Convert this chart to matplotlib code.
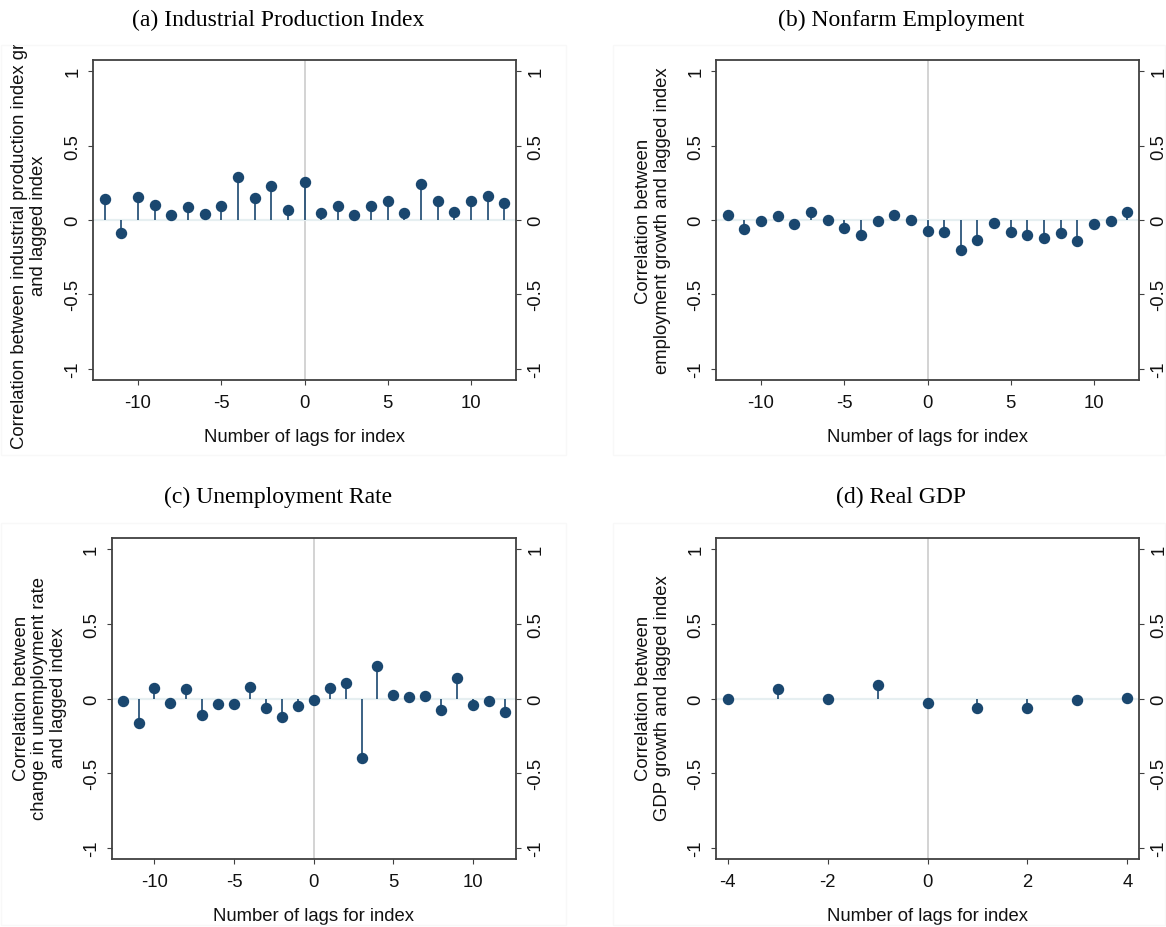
import matplotlib
matplotlib.use("Agg")
import matplotlib.pyplot as plt
import matplotlib.patches as patches
import numpy as np

plt.rcParams['axes.unicode_minus'] = False
plt.rcParams['font.family'] = 'Liberation Sans'

# lags
lags_monthly = list(range(-12, 13))
lags_gdp = list(range(-4, 5))

# (a) industrial production
ip_corr = [0.139, -0.085, 0.153, 0.099, 0.036, 0.090, 0.038, 0.094, 0.290, 0.146,
           0.229, 0.070, 0.254, 0.047, 0.092, 0.034, 0.097, 0.130, 0.049, 0.243,
           0.128, 0.052, 0.128, 0.160, 0.112]
# (b) nonfarm employment
emp_corr = [0.031, -0.058, -0.007, 0.025, -0.027, 0.054, -0.002, -0.054, -0.101, -0.007,
            0.031, 0.000, -0.076, -0.083, -0.204, -0.135, -0.022, -0.083, -0.101, -0.124,
            -0.088, -0.139, -0.029, -0.009, 0.056]
# (c) unemployment rate
unemp_corr = [-0.020, -0.166, 0.072, -0.027, 0.063, -0.112, -0.036, -0.038, 0.076, -0.063,
              -0.121, -0.049, -0.009, 0.070, 0.101, -0.398, 0.216, 0.022, 0.013, 0.020,
              -0.079, 0.135, -0.043, -0.018, -0.088]
# (d) real GDP
gdp_corr = [0.000, 0.061, -0.002, 0.088, -0.027, -0.065, -0.063, -0.007, 0.002]

titles = ["(a) Industrial Production Index", "(b) Nonfarm Employment",
          "(c) Unemployment Rate", "(d) Real GDP"]
ylabels = ["Correlation between industrial production index growth\nand lagged index",
           "Correlation between\nemployment growth and lagged index",
           "Correlation between\nchange in unemployment rate\nand lagged index",
           "Correlation between\nGDP growth and lagged index"]
xlabel = "Number of lags for index"
yticks = [-1, -0.5, 0, 0.5, 1]
ytick_labels = ["-1", "-0.5", "0", "0.5", "1"]

W, H = 1166, 928
navy = '#1a476f'
spine_col = '#404040'
fs = 13.3

fig = plt.figure(figsize=(W / 100, H / 100), dpi=100)

def fx(px):
    return px / W

def fy(py):
    return 1 - py / H

# axes boxes in pixels: left, top, right, bottom
boxes = [(93, 61, 516, 381), (716, 61, 1139, 381),
         (111.5, 539, 516, 860), (716, 539, 1139, 860)]
# faint graph regions: left, top, right, bottom
regions = [(1, 46, 566, 456), (613, 46, 1165, 456),
           (1, 524, 566, 926), (613, 524, 1165, 926)]
title_pos = [(278, 20), (901, 20), (278, 497), (901, 497)]
ylabel_pos = [(29, 226), (653, 221), (40, 698), (653, 698)]

series = [(lags_monthly, ip_corr), (lags_monthly, emp_corr),
          (lags_monthly, unemp_corr), (lags_gdp, gdp_corr)]

for i in range(4):
    l, t, r, b = regions[i]
    fig.patches.append(patches.Rectangle((fx(l), fy(b)), fx(r - l), (b - t) / H,
                                         transform=fig.transFigure, facecolor='none',
                                         edgecolor='#f8f8f8', lw=1))

for i in range(4):
    l, t, r, b = boxes[i]
    ax = fig.add_axes([fx(l), fy(b), fx(r - l), (b - t) / H])
    lags, vals = series[i]
    ax.axvline(0, color='#c8c8c8', lw=1.1, zorder=1)
    ax.axhline(0, color='#e6eff1', lw=1.6, zorder=1)
    ax.vlines(lags, 0, vals, color=navy, lw=1.2, zorder=2)
    ax.plot(lags, vals, 'o', color=navy, ms=7.2, zorder=3)

    span = max(lags) - min(lags)
    ax.set_xlim(min(lags) - 0.029 * span, max(lags) + 0.029 * span)
    ax.set_ylim(-1.075, 1.075)
    if i == 3:
        ax.set_xticks([-4, -2, 0, 2, 4])
    else:
        ax.set_xticks([-10, -5, 0, 5, 10])
    ax.set_yticks(yticks)
    ax.set_yticklabels(ytick_labels)
    ax.tick_params(axis='y', left=True, right=True, labelleft=True, labelright=True,
                   labelrotation=90, pad=4.5)
    ax.tick_params(direction='out', length=3.8, width=0.8, color=spine_col,
                   labelsize=fs, colors='#111111')
    ax.tick_params(axis='x', pad=6.5)
    for lab in ax.get_yticklabels():
        lab.set_va('center')
    for s in ax.spines.values():
        s.set_color(spine_col)
        s.set_linewidth(1.3)
    ax.set_xlabel(xlabel, fontsize=fs, labelpad=12, color='#111111')

    tx, ty = title_pos[i]
    fig.text(fx(tx), fy(ty), titles[i], family='Liberation Serif', fontsize=17,
             ha='center', va='center')

    lx, ly = ylabel_pos[i]
    yl = fig.text(fx(lx), fy(ly), ylabels[i], rotation=90, fontsize=fs,
                  ha='center', va='center', multialignment='center',
                  linespacing=1.1, color='#111111')
    rl, rt, rr, rb = regions[i]
    clip = patches.Rectangle((fx(rl), fy(rb)), fx(rr - rl), (rb - rt) / H,
                             transform=fig.transFigure)
    yl.set_clip_path(clip)
    yl.set_clip_on(True)

fig.savefig("out.png", dpi=100, facecolor='white')
